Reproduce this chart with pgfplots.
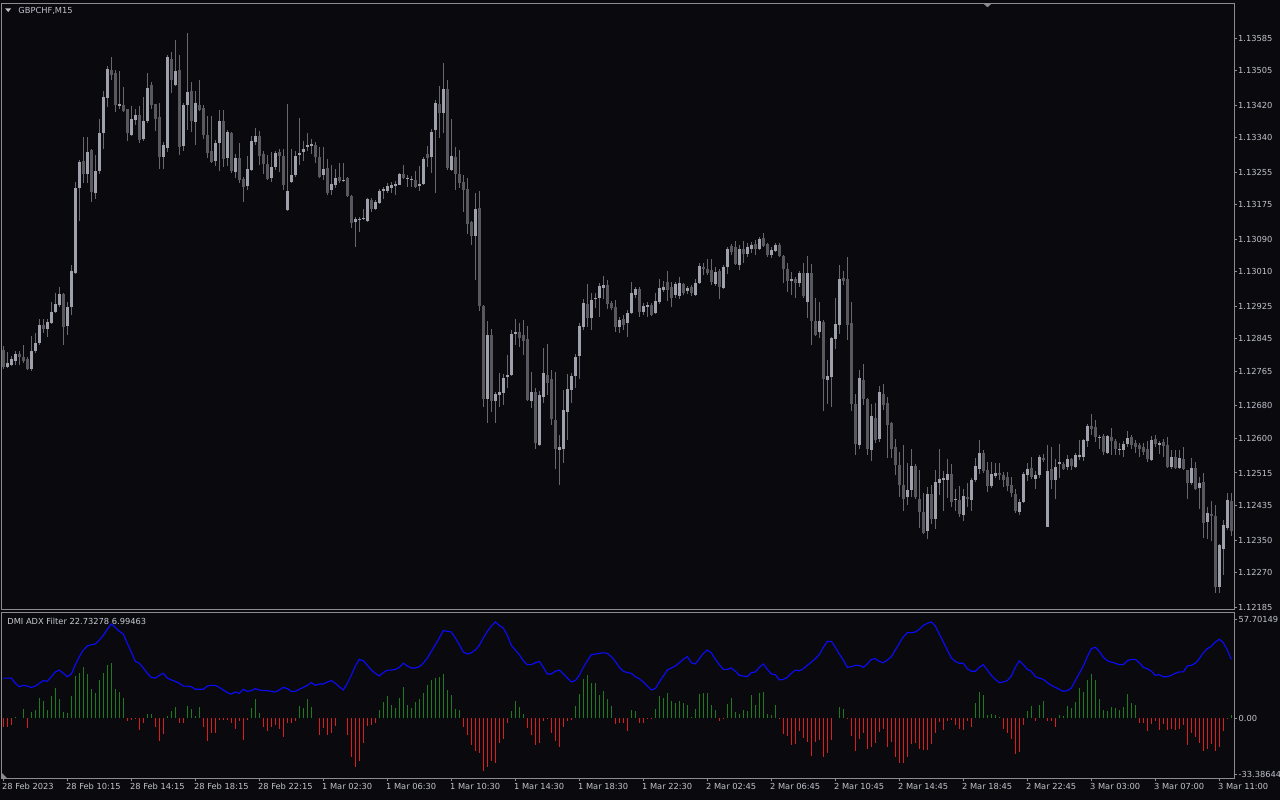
\documentclass[border=0pt]{standalone}
\usepackage{pgfplots}
\pgfplotsset{compat=1.18}
\usepackage{pgfplotstable}
\usepackage{fontspec}
\newfontfamily\dejavu{DejaVu Sans}
\newcommand\mtfont{\dejavu\fontsize{4.15}{5}\selectfont}
\definecolor{bg}{RGB}{10,10,14}
\definecolor{frame}{RGB}{140,140,146}
\definecolor{txt}{RGB}{192,194,204}
\definecolor{bull}{RGB}{158,160,172}
\definecolor{bear}{RGB}{88,88,94}
\definecolor{wick}{RGB}{104,104,110}
\definecolor{hgreen}{RGB}{32,122,32}
\definecolor{hred}{RGB}{214,32,32}
\definecolor{adxblue}{RGB}{10,10,255}

\pgfplotstableread{
i o h l c
0 1.12818 1.12827 1.12771 1.12776
1 1.12776 1.12813 1.12773 1.12785
2 1.12781 1.12803 1.12778 1.12795
3 1.12790 1.12815 1.12781 1.12808
4 1.12808 1.12815 1.12781 1.12800
5 1.12800 1.12830 1.12785 1.12790
6 1.12795 1.12800 1.12768 1.12771
7 1.12771 1.12852 1.12766 1.12815
8 1.12815 1.12859 1.12810 1.12835
9 1.12835 1.12894 1.12830 1.12879
10 1.12879 1.12894 1.12859 1.12869
11 1.12869 1.12894 1.12850 1.12886
12 1.12884 1.12936 1.12881 1.12911
13 1.12911 1.12958 1.12908 1.12931
14 1.12928 1.12972 1.12923 1.12955
15 1.12955 1.12958 1.12830 1.12874
16 1.12877 1.12936 1.12854 1.12923
17 1.12923 1.13027 1.12904 1.13012
18 1.13007 1.13231 1.13004 1.13216
19 1.13216 1.13285 1.13135 1.13280
20 1.13282 1.13342 1.13228 1.13251
21 1.13251 1.13342 1.13228 1.13305
22 1.13310 1.13312 1.13182 1.13206
23 1.13204 1.13297 1.13189 1.13258
24 1.13258 1.13386 1.13251 1.13351
25 1.13351 1.13455 1.13312 1.13440
26 1.13437 1.13516 1.13415 1.13509
27 1.13506 1.13538 1.13482 1.13494
28 1.13499 1.13506 1.13403 1.13420
29 1.13418 1.13504 1.13410 1.13423
30 1.13420 1.13465 1.13403 1.13405
31 1.13410 1.13410 1.13332 1.13351
32 1.13346 1.13418 1.13343 1.13386
33 1.13383 1.13410 1.13371 1.13396
34 1.13396 1.13418 1.13327 1.13334
35 1.13337 1.13440 1.13332 1.13381
36 1.13381 1.13499 1.13376 1.13462
37 1.13469 1.13477 1.13410 1.13420
38 1.13423 1.13423 1.13356 1.13386
39 1.13391 1.13425 1.13263 1.13292
40 1.13292 1.13329 1.13263 1.13322
41 1.13314 1.13543 1.13305 1.13538
42 1.13533 1.13551 1.13450 1.13482
43 1.13469 1.13580 1.13467 1.13504
44 1.13506 1.13543 1.13297 1.13317
45 1.13319 1.13425 1.13307 1.13420
46 1.13420 1.13597 1.13359 1.13452
47 1.13455 1.13477 1.13354 1.13381
48 1.13378 1.13455 1.13322 1.13425
49 1.13420 1.13482 1.13405 1.13408
50 1.13413 1.13420 1.13337 1.13346
51 1.13346 1.13393 1.13290 1.13302
52 1.13307 1.13393 1.13278 1.13280
53 1.13282 1.13334 1.13270 1.13327
54 1.13327 1.13408 1.13258 1.13381
55 1.13381 1.13408 1.13268 1.13287
56 1.13290 1.13359 1.13270 1.13354
57 1.13351 1.13354 1.13253 1.13258
58 1.13255 1.13300 1.13241 1.13290
59 1.13290 1.13327 1.13228 1.13236
60 1.13238 1.13243 1.13182 1.13219
61 1.13221 1.13295 1.13211 1.13263
62 1.13260 1.13343 1.13258 1.13332
63 1.13329 1.13364 1.13322 1.13343
64 1.13343 1.13356 1.13273 1.13295
65 1.13300 1.13307 1.13251 1.13275
66 1.13275 1.13297 1.13236 1.13238
67 1.13241 1.13305 1.13231 1.13268
68 1.13268 1.13307 1.13260 1.13302
69 1.13305 1.13312 1.13255 1.13295
70 1.13295 1.13312 1.13211 1.13223
71 1.13162 1.13423 1.13159 1.13209
72 1.13231 1.13312 1.13228 1.13248
73 1.13248 1.13307 1.13243 1.13295
74 1.13297 1.13388 1.13273 1.13302
75 1.13305 1.13332 1.13282 1.13312
76 1.13317 1.13351 1.13307 1.13322
77 1.13319 1.13337 1.13300 1.13324
78 1.13322 1.13329 1.13278 1.13292
79 1.13292 1.13317 1.13241 1.13243
80 1.13248 1.13317 1.13236 1.13263
81 1.13265 1.13287 1.13199 1.13204
82 1.13211 1.13273 1.13199 1.13226
83 1.13223 1.13263 1.13216 1.13241
84 1.13243 1.13278 1.13228 1.13233
85 1.13233 1.13278 1.13231 1.13236
86 1.13241 1.13243 1.13194 1.13196
87 1.13196 1.13199 1.13118 1.13130
88 1.13132 1.13145 1.13071 1.13140
89 1.13137 1.13145 1.13108 1.13140
90 1.13140 1.13164 1.13137 1.13142
91 1.13135 1.13191 1.13132 1.13189
92 1.13187 1.13191 1.13157 1.13164
93 1.13164 1.13187 1.13162 1.13182
94 1.13179 1.13214 1.13177 1.13209
95 1.13209 1.13219 1.13189 1.13214
96 1.13209 1.13228 1.13204 1.13221
97 1.13216 1.13231 1.13204 1.13223
98 1.13221 1.13233 1.13199 1.13226
99 1.13223 1.13253 1.13223 1.13251
100 1.13251 1.13273 1.13238 1.13241
101 1.13238 1.13248 1.13219 1.13241
102 1.13238 1.13246 1.13219 1.13238
103 1.13236 1.13258 1.13216 1.13219
104 1.13221 1.13270 1.13209 1.13226
105 1.13226 1.13292 1.13223 1.13287
106 1.13300 1.13319 1.13268 1.13290
107 1.13292 1.13361 1.13253 1.13354
108 1.13359 1.13433 1.13204 1.13425
109 1.13423 1.13467 1.13339 1.13401
110 1.13401 1.13524 1.13351 1.13460
111 1.13460 1.13482 1.13260 1.13265
112 1.13260 1.13386 1.13258 1.13295
113 1.13292 1.13317 1.13211 1.13251
114 1.13251 1.13310 1.13216 1.13228
115 1.13231 1.13248 1.13157 1.13211
116 1.13214 1.13241 1.13103 1.13127
117 1.13132 1.13135 1.13076 1.13098
118 1.13098 1.13204 1.12990 1.13164
119 1.13167 1.13209 1.12913 1.12926
120 1.12926 1.12928 1.12677 1.12697
121 1.12697 1.12889 1.12638 1.12854
122 1.12854 1.12869 1.12665 1.12692
123 1.12692 1.12714 1.12638 1.12709
124 1.12707 1.12761 1.12677 1.12714
125 1.12712 1.12758 1.12682 1.12749
126 1.12751 1.12805 1.12724 1.12756
127 1.12756 1.12866 1.12754 1.12857
128 1.12857 1.12894 1.12830 1.12862
129 1.12862 1.12884 1.12825 1.12847
130 1.12854 1.12891 1.12805 1.12840
131 1.12845 1.12876 1.12692 1.12695
132 1.12692 1.12763 1.12675 1.12714
133 1.12714 1.12724 1.12574 1.12589
134 1.12584 1.12717 1.12581 1.12707
135 1.12702 1.12823 1.12687 1.12761
136 1.12756 1.12832 1.12707 1.12736
137 1.12746 1.12768 1.12633 1.12648
138 1.12645 1.12763 1.12525 1.12574
139 1.12571 1.12608 1.12485 1.12579
140 1.12574 1.12719 1.12540 1.12670
141 1.12665 1.12758 1.12596 1.12722
142 1.12719 1.12761 1.12687 1.12754
143 1.12754 1.12808 1.12724 1.12800
144 1.12803 1.12884 1.12746 1.12877
145 1.12874 1.12943 1.12866 1.12933
146 1.12931 1.12980 1.12874 1.12896
147 1.12896 1.12958 1.12866 1.12941
148 1.12943 1.12958 1.12921 1.12945
149 1.12945 1.12982 1.12899 1.12975
150 1.12970 1.13000 1.12943 1.12977
151 1.12977 1.12990 1.12918 1.12931
152 1.12933 1.12938 1.12916 1.12921
153 1.12923 1.12941 1.12862 1.12874
154 1.12874 1.12899 1.12859 1.12891
155 1.12894 1.12904 1.12866 1.12879
156 1.12884 1.12916 1.12850 1.12908
157 1.12908 1.12985 1.12906 1.12958
158 1.12953 1.12972 1.12945 1.12968
159 1.12968 1.12972 1.12899 1.12911
160 1.12911 1.12933 1.12904 1.12926
161 1.12923 1.12936 1.12899 1.12928
162 1.12928 1.12933 1.12901 1.12904
163 1.12908 1.12958 1.12906 1.12938
164 1.12936 1.12992 1.12931 1.12970
165 1.12965 1.12987 1.12960 1.12972
166 1.12985 1.13012 1.12938 1.12965
167 1.12972 1.12985 1.12923 1.12945
168 1.12953 1.12985 1.12945 1.12980
169 1.12950 1.12997 1.12943 1.12982
170 1.12980 1.12982 1.12953 1.12958
171 1.12963 1.12975 1.12955 1.12970
172 1.12972 1.12977 1.12950 1.12958
173 1.12953 1.12992 1.12950 1.12982
174 1.12982 1.13031 1.12980 1.13024
175 1.13022 1.13031 1.13002 1.13017
176 1.13017 1.13041 1.13002 1.13007
177 1.13014 1.13041 1.12977 1.12985
178 1.12980 1.13022 1.12975 1.13009
179 1.13012 1.13017 1.12943 1.12972
180 1.12970 1.13027 1.12968 1.13022
181 1.13022 1.13071 1.13004 1.13066
182 1.13073 1.13078 1.13051 1.13059
183 1.13071 1.13086 1.13027 1.13029
184 1.13027 1.13076 1.13014 1.13066
185 1.13066 1.13086 1.13031 1.13054
186 1.13054 1.13081 1.13046 1.13071
187 1.13066 1.13083 1.13056 1.13076
188 1.13078 1.13088 1.13051 1.13066
189 1.13066 1.13096 1.13064 1.13091
190 1.13093 1.13105 1.13071 1.13073
191 1.13078 1.13081 1.13046 1.13051
192 1.13051 1.13071 1.13044 1.13064
193 1.13061 1.13081 1.13059 1.13076
194 1.13076 1.13081 1.13046 1.13049
195 1.13049 1.13051 1.12982 1.13017
196 1.13017 1.13031 1.12960 1.12987
197 1.12987 1.13009 1.12953 1.12992
198 1.12992 1.12997 1.12945 1.12982
199 1.12982 1.13012 1.12972 1.13007
200 1.13007 1.13031 1.12945 1.12950
201 1.12936 1.13049 1.12896 1.13007
202 1.13007 1.13029 1.12830 1.12889
203 1.12889 1.12945 1.12852 1.12854
204 1.12862 1.12936 1.12847 1.12889
205 1.12886 1.12891 1.12667 1.12746
206 1.12744 1.12793 1.12685 1.12754
207 1.12751 1.12850 1.12677 1.12847
208 1.12844 1.12945 1.12820 1.12881
209 1.12879 1.13027 1.12857 1.12992
210 1.12995 1.13012 1.12977 1.12987
211 1.12992 1.13046 1.12842 1.12879
212 1.12884 1.12936 1.12667 1.12685
213 1.12685 1.12709 1.12559 1.12586
214 1.12584 1.12768 1.12574 1.12749
215 1.12744 1.12783 1.12682 1.12697
216 1.12697 1.12699 1.12559 1.12574
217 1.12571 1.12685 1.12545 1.12655
218 1.12650 1.12687 1.12589 1.12596
219 1.12599 1.12729 1.12591 1.12714
220 1.12709 1.12734 1.12670 1.12682
221 1.12687 1.12702 1.12552 1.12633
222 1.12638 1.12640 1.12552 1.12574
223 1.12579 1.12599 1.12510 1.12535
224 1.12535 1.12567 1.12456 1.12485
225 1.12485 1.12584 1.12421 1.12451
226 1.12456 1.12540 1.12436 1.12473
227 1.12473 1.12574 1.12456 1.12532
228 1.12532 1.12537 1.12451 1.12456
229 1.12451 1.12522 1.12380 1.12419
230 1.12419 1.12466 1.12365 1.12367
231 1.12372 1.12481 1.12353 1.12463
232 1.12463 1.12485 1.12390 1.12402
233 1.12402 1.12522 1.12377 1.12493
234 1.12490 1.12574 1.12461 1.12500
235 1.12498 1.12520 1.12421 1.12503
236 1.12498 1.12549 1.12453 1.12512
237 1.12512 1.12537 1.12431 1.12444
238 1.12449 1.12476 1.12421 1.12451
239 1.12449 1.12483 1.12407 1.12414
240 1.12412 1.12476 1.12397 1.12458
241 1.12456 1.12490 1.12431 1.12451
242 1.12449 1.12503 1.12421 1.12498
243 1.12498 1.12552 1.12493 1.12532
244 1.12525 1.12596 1.12512 1.12564
245 1.12564 1.12571 1.12515 1.12520
246 1.12522 1.12542 1.12468 1.12483
247 1.12483 1.12542 1.12478 1.12512
248 1.12508 1.12540 1.12503 1.12515
249 1.12515 1.12540 1.12498 1.12510
250 1.12510 1.12517 1.12481 1.12498
251 1.12505 1.12517 1.12471 1.12483
252 1.12485 1.12505 1.12456 1.12466
253 1.12463 1.12476 1.12417 1.12421
254 1.12419 1.12451 1.12412 1.12444
255 1.12444 1.12517 1.12441 1.12512
256 1.12510 1.12540 1.12496 1.12525
257 1.12527 1.12554 1.12500 1.12505
258 1.12500 1.12520 1.12476 1.12510
259 1.12510 1.12559 1.12503 1.12554
260 1.12552 1.12562 1.12542 1.12547
261 1.12382 1.12584 1.12382 1.12520
262 1.12525 1.12579 1.12476 1.12498
263 1.12498 1.12549 1.12451 1.12530
264 1.12537 1.12586 1.12503 1.12542
265 1.12537 1.12542 1.12522 1.12525
266 1.12530 1.12559 1.12522 1.12549
267 1.12549 1.12552 1.12522 1.12532
268 1.12530 1.12564 1.12527 1.12559
269 1.12554 1.12596 1.12547 1.12559
270 1.12554 1.12599 1.12545 1.12596
271 1.12594 1.12635 1.12579 1.12631
272 1.12631 1.12660 1.12608 1.12623
273 1.12628 1.12645 1.12591 1.12604
274 1.12601 1.12608 1.12574 1.12603
275 1.12606 1.12611 1.12559 1.12567
276 1.12564 1.12608 1.12562 1.12606
277 1.12604 1.12626 1.12559 1.12594
278 1.12594 1.12599 1.12559 1.12574
279 1.12571 1.12589 1.12559 1.12574
280 1.12571 1.12594 1.12554 1.12586
281 1.12586 1.12618 1.12579 1.12601
282 1.12604 1.12608 1.12574 1.12584
283 1.12589 1.12596 1.12564 1.12579
284 1.12584 1.12589 1.12554 1.12574
285 1.12579 1.12589 1.12559 1.12567
286 1.12574 1.12594 1.12542 1.12549
287 1.12547 1.12606 1.12545 1.12596
288 1.12599 1.12608 1.12579 1.12586
289 1.12584 1.12594 1.12562 1.12589
290 1.12591 1.12599 1.12554 1.12581
291 1.12584 1.12604 1.12527 1.12530
292 1.12530 1.12571 1.12525 1.12554
293 1.12554 1.12571 1.12525 1.12527
294 1.12527 1.12571 1.12525 1.12552
295 1.12549 1.12579 1.12522 1.12525
296 1.12522 1.12522 1.12451 1.12490
297 1.12490 1.12552 1.12485 1.12527
298 1.12527 1.12542 1.12473 1.12476
299 1.12478 1.12505 1.12426 1.12490
300 1.12493 1.12515 1.12355 1.12392
301 1.12394 1.12431 1.12353 1.12417
302 1.12414 1.12446 1.12348 1.12409
303 1.12409 1.12436 1.12220 1.12235
304 1.12235 1.12340 1.12220 1.12338
305 1.12328 1.12399 1.12265 1.12387
306 1.12380 1.12466 1.12375 1.12449
307 1.12446 1.12466 1.12360 1.12372
}\candles

\pgfplotstableread{
i hist adx
0 -5.1 23.5
1 -5.1 23.5
2 -4.3 23.5
3 0.8 20.4
4 0 18.4
5 5.5 19.2
6 -5.9 18.8
7 3.5 18
8 4.7 18.8
9 11.8 20.4
10 10.2 22
11 4.7 21.6
12 12.9 24.3
13 17.6 27.1
14 11 28.2
15 3.5 26.3
16 2.7 24.3
17 12.9 25.9
18 24.7 31.4
19 26.7 36.1
20 29.8 40
21 25.9 42.4
22 17.3 43.1
23 14.9 43.5
24 22.4 45.9
25 26.7 48.6
26 31.4 52.2
27 32.5 55.3
28 17.3 53.3
29 15.3 51
30 11.8 49.4
31 -1.6 43.9
32 -1.2 38.8
33 -0.8 33.3
34 -7.1 32.2
35 -3.1 29.4
36 2.4 26.3
37 2.4 23.9
38 -5.5 23.5
39 -13.3 25.1
40 -9.4 26.3
41 1.2 23.5
42 3.9 22.4
43 6.7 21.6
44 -3.1 20.4
45 -3.1 18.8
46 7.1 18.8
47 5.1 18.4
48 1.2 16.9
49 6.7 16.9
50 -5.5 16.9
51 -13.7 18.8
52 -9 19.2
53 -9 19.2
54 -1.2 18
55 -1.2 16.5
56 -1.2 14.9
57 -3.1 14.1
58 -6.3 15.3
59 -1.6 14.5
60 -12.9 16.9
61 -1.2 15.7
62 5.9 16.1
63 11.4 17.3
64 3.1 16.5
65 -5.5 16.1
66 -7.5 16.1
67 -5.1 15.7
68 -3.9 15.3
69 -6.3 16.5
70 -11 18
71 -3.1 17.3
72 -2.7 15.7
73 -2 15.7
74 7.1 16.9
75 5.9 18
76 11 19.2
77 6.7 20.8
78 0 19.2
79 -9.8 20
80 -5.9 20
81 -10.2 21.2
82 -9 22
83 -4.7 20.4
84 0 18.4
85 0 16.5
86 -10.2 20.4
87 -22.7 25.1
88 -29 30.6
89 -25.1 34.5
90 -14.9 33.7
91 -4.7 31
92 -3.9 28.2
93 -2.7 26.3
94 4.7 24.7
95 9.4 26.7
96 12.9 28.2
97 7.5 28.2
98 5.9 28.6
99 11.8 29.8
100 18 32.2
101 7.5 30.6
102 5.9 29.4
103 9.4 29.4
104 11 30.2
105 14.5 32.2
106 19.2 35.3
107 22.4 39.2
108 23.5 43.1
109 23.9 47.1
110 25.9 51.4
111 16.5 51
112 13.3 50.6
113 5.1 47.1
114 4.7 43.1
115 -5.1 38.8
116 -9.8 37.6
117 -15.7 38.4
118 -19.2 40
119 -20.4 42.7
120 -31 47.1
121 -29 51
122 -25.1 54.1
123 -26.7 56.5
124 -14.9 54.5
125 -12.5 52.9
126 -3.1 48.6
127 3.9 42.7
128 9.8 40
129 6.3 37.3
130 2.4 33.7
131 -5.9 31.4
132 -10.2 31.4
133 -16.1 32.5
134 -14.5 33.3
135 -1.6 29.8
136 -0.8 25.9
137 -8.6 25.9
138 -13.7 27.5
139 -16.9 28.2
140 -5.5 25.9
141 -1.6 23.5
142 -1.2 21.2
143 7.1 22
144 14.1 25.1
145 23.1 29.8
146 25.5 33.7
147 20.8 37.3
148 20.8 37.6
149 13.7 38
150 15.7 38.4
151 11 38
152 7.1 36.1
153 -3.5 33.3
154 -3.1 29.8
155 -2.7 27.5
156 -7.5 26.7
157 4.7 26.3
158 4.3 24.3
159 -3.1 23.1
160 -2.7 21.2
161 -0.4 18.8
162 -0.4 16.5
163 5.5 17.3
164 12.9 21.2
165 11.8 24.7
166 14.5 28.2
167 10.2 29.4
168 9 30.6
169 10.2 32.5
170 8.6 34.5
171 7.5 36.1
172 0.8 32.5
173 5.1 31.8
174 14.1 34.9
175 14.9 38
176 14.9 40
177 7.5 38.4
178 4.7 34.5
179 -1.6 31.4
180 -0.4 28.6
181 8.2 28.6
182 11.8 29.4
183 3.5 27.5
184 2.4 25.1
185 4.7 24.7
186 4.3 24.3
187 13.7 26.7
188 7.5 27.1
189 14.5 29.8
190 15.3 31.8
191 2.4 28.6
192 2 25.9
193 7.5 25.5
194 -0.4 22.4
195 -9.4 22.7
196 -10.6 23.9
197 -15.7 26.3
198 -15.3 28.2
199 -7.5 27.8
200 -11.8 29
201 -14.1 31
202 -22.4 32.9
203 -14.1 34.9
204 -12.9 37.3
205 -23.1 41.6
206 -20.4 45.1
207 -12.9 45.1
208 0 41.6
209 6.3 37.6
210 5.1 34.1
211 -0.8 29.8
212 -10.6 30.2
213 -19.2 31
214 -12.2 31
215 -8.6 29.8
216 -18 31.8
217 -17.3 34.5
218 -14.5 34.9
219 -8.2 33.3
220 -6.3 32.5
221 -16.9 34.1
222 -14.1 36.1
223 -22.7 40
224 -26.3 43.9
225 -26.3 47.8
226 -22.7 50.2
227 -15.3 50.2
228 -14.9 50.6
229 -18.4 52.2
230 -18.8 54.5
231 -18.8 55.7
232 -15.3 56.5
233 -9 54.1
234 -2.4 49.4
235 -7.1 44.7
236 -2 40
237 -1.2 35.3
238 -4.3 33.3
239 -6.3 32.2
240 -7.1 32.2
241 -2 29
242 -5.5 27.5
243 9 27.5
244 15.3 29.8
245 13.3 31.4
246 2 28.2
247 2.4 25.1
248 1.6 22.7
249 0.4 20.8
250 -6.7 21.2
251 -9 22
252 -12.2 24.7
253 -21.2 29.8
254 -20 33.7
255 -3.9 31.4
256 4.3 28.6
257 7.1 27.5
258 -1.6 24.3
259 7.5 23.5
260 10.2 22.7
261 -2 20.8
262 -2 19.2
263 -5.1 18
264 1.6 16.9
265 1.2 15.7
266 7.1 16.1
267 5.9 17.6
268 9.4 22
269 17.6 26.3
270 15.3 30.6
271 22.4 36.1
272 25.9 40.8
273 22.4 41.6
274 11 39.2
275 4.7 35.7
276 4.3 33.7
277 6.7 32.9
278 5.9 32.2
279 4.7 31.4
280 6.3 31.4
281 14.1 33.7
282 8.6 34.5
283 7.5 34.5
284 -3.1 32.5
285 -3.1 29.8
286 -7.8 29
287 -3.5 27.5
288 -2 25.1
289 -7.1 25.5
290 -3.5 24.3
291 -7.1 24.3
292 -6.7 25.1
293 -7.1 26.3
294 -6.3 27.1
295 -3.9 27.1
296 -16.1 30.6
297 -8.6 31
298 -11.4 32.2
299 -14.9 34.9
300 -19.6 38.4
301 -18 40.8
302 -15.3 42.2
303 -19.6 44.7
304 -17.3 46.3
305 -7.8 44.3
306 -0.8 40
307 1.6 34.5
}\dmi

\begin{document}
\begin{tikzpicture}
\fill[bg] (0,0) rectangle (640pt,-400pt);
\useasboundingbox (0,0) rectangle (640pt,-400pt);

\begin{axis}[
  at={(1pt,-304.5pt)}, anchor=south west,
  scale only axis, width=616pt, height=303pt,
  xmin=-0.33, xmax=307.67, ymin=1.121804, ymax=1.136711,
  axis line style={draw=frame, line width=0.5pt},
  xtick=\empty,
  ytick={1.13585,1.13505,1.13420,1.13340,1.13255,1.13175,1.13090,1.13010,1.12925,1.12845,1.12765,1.12680,1.12600,1.12515,1.12435,1.12350,1.12270,1.12185},
  yticklabels={1.13585,1.13505,1.13420,1.13340,1.13255,1.13175,1.13090,1.13010,1.12925,1.12845,1.12765,1.12680,1.12600,1.12515,1.12435,1.12350,1.12270,1.12185},
  scaled y ticks=false,
  ytick pos=right, yticklabel pos=right,
  tick align=outside, major tick length=1.25pt,
  tick style={draw=frame, line width=0.5pt},
  yticklabel style={font=\mtfont, text=txt, anchor=west, inner sep=0pt, xshift=0.6pt},
  no markers,
]
\addplot[draw=none, mark=none, forget plot,
  error bars/.cd, y dir=both, y explicit, error mark=none,
  error bar style={draw=wick, line width=0.5pt}]
  table[x=i, y=c, y error plus expr={\thisrow{h}-\thisrow{c}}, y error minus expr={\thisrow{c}-\thisrow{l}}]{\candles};
\addplot[draw=none, mark=none, forget plot,
  restrict expr to domain={\thisrow{c}-\thisrow{o}}{0:1},
  error bars/.cd, y dir=both, y explicit, error mark=none,
  error bar style={draw=bull, line width=1.5pt}]
  table[x=i, y=c, y error plus expr={0}, y error minus expr={max(\thisrow{c}-\thisrow{o},0.00002)}]{\candles};
\addplot[draw=none, mark=none, forget plot,
  restrict expr to domain={\thisrow{o}-\thisrow{c}}{0.0000001:1},
  error bars/.cd, y dir=both, y explicit, error mark=none,
  error bar style={draw=bear, line width=1.5pt}]
  table[x=i, y=c, y error plus expr={max(\thisrow{o}-\thisrow{c},0.00002)}, y error minus expr={0}]{\candles};
\end{axis}

\begin{axis}[
  at={(1pt,-389pt)}, anchor=south west,
  scale only axis, width=616pt, height=83pt,
  xmin=-0.33, xmax=307.67, ymin=-35.29, ymax=62.35,
  axis line style={draw=frame, line width=0.5pt},
  xtick={0,16,...,304},
  xticklabels={28 Feb 2023,28 Feb 10:15,28 Feb 14:15,28 Feb 18:15,28 Feb 22:15,1 Mar 02:30,1 Mar 06:30,1 Mar 10:30,1 Mar 14:30,1 Mar 18:30,1 Mar 22:30,2 Mar 02:45,2 Mar 06:45,2 Mar 10:45,2 Mar 14:45,2 Mar 18:45,2 Mar 22:45,3 Mar 03:00,3 Mar 07:00,3 Mar 11:00},
  xtick pos=bottom, xticklabel pos=bottom,
  ytick={-33.38644,0,57.70149},
  yticklabels={-33.38644,0.00,57.70149},
  scaled y ticks=false,
  ytick pos=right, yticklabel pos=right,
  tick align=outside, major tick length=1.5pt,
  tick style={draw=frame, line width=0.5pt},
  yticklabel style={font=\mtfont, text=txt, anchor=west, inner sep=0pt, xshift=0.6pt},
  xticklabel style={font=\mtfont, text=txt, anchor=north west, inner sep=0pt, xshift=-0.8pt, yshift=-0.8pt},
]
\addplot[ycomb, draw=hgreen, line width=0.5pt, mark=none, forget plot,
  restrict y to domain=0.01:100] table[x=i, y=hist]{\dmi};
\addplot[ycomb, draw=hred, line width=0.5pt, mark=none, forget plot,
  restrict y to domain=-100:-0.01] table[x=i, y=hist]{\dmi};
\addplot[draw=adxblue, line width=0.55pt, mark=none, forget plot] table[x=i, y=adx]{\dmi};
\end{axis}

\fill[txt] (2.6pt,-4.2pt) -- (5.6pt,-4.2pt) -- (4.1pt,-6pt) -- cycle;
\node[anchor=west, font=\mtfont, text=txt, inner sep=0pt] at (9pt,-5.2pt) {GBPCHF,M15};
\node[anchor=west, font=\mtfont, text=txt!85, inner sep=0pt] at (3.5pt,-310.6pt) {DMI ADX Filter 22.73278 6.99463};
\fill[frame] (491.5pt,-1.6pt) -- (496pt,-1.6pt) -- (493.75pt,-3.6pt) -- cycle;
\fill[frame] (1pt,-389pt) -- (3.5pt,-389pt) -- (1pt,-386.5pt) -- cycle;
\end{tikzpicture}
\end{document}
